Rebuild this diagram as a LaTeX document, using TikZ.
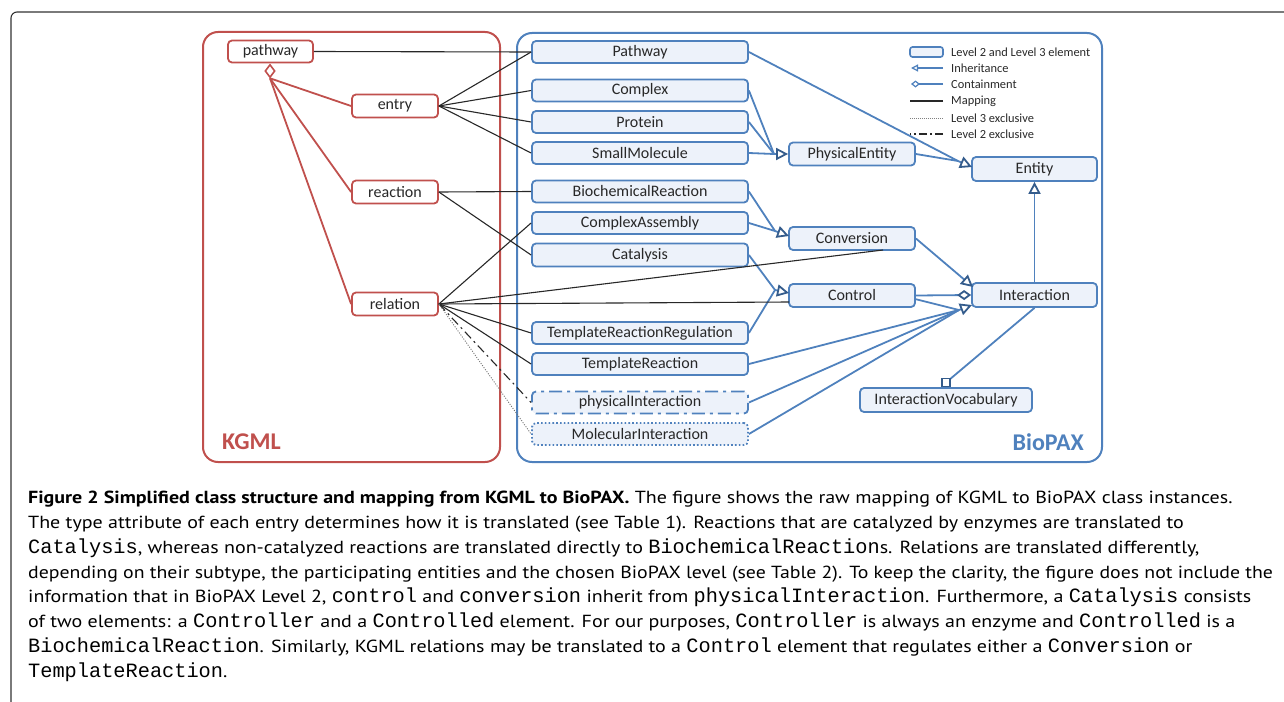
\documentclass[tikz,border=0pt]{standalone}
\usepackage{fontspec}
\setmainfont{PT Sans}[FakeStretch=1.143]
\setmonofont{Liberation Mono}
\newfontfamily\calfont{Carlito}
\usetikzlibrary{arrows.meta,shapes.geometric}
\definecolor{kred}{RGB}{192,80,77}
\definecolor{bblue}{RGB}{79,129,189}
\definecolor{bdark}{RGB}{52,92,140}
\definecolor{bfill}{RGB}{237,242,250}
\definecolor{ink}{RGB}{40,40,40}
\tikzset{
  kbox/.style={draw=kred, line width=1.8pt, fill=white, rounded corners=4pt, minimum width=86pt, minimum height=23pt, inner sep=0pt, font=\calfont\fontsize{16}{18}\selectfont, text=ink},
  bbox/.style={draw=bblue, line width=1.8pt, fill=bfill, rounded corners=4pt, minimum width=216pt, minimum height=22pt, inner sep=0pt, font=\calfont\fontsize{16}{18}\selectfont, text=ink},
  midbox/.style={bbox, minimum width=126pt, minimum height=23pt},
  maplink/.style={draw=ink, line width=1.1pt},
  redlink/.style={draw=kred, line width=1.8pt},
  bluelink/.style={draw=bblue, line width=1.8pt},
  inh/.style={bluelink, -{Triangle[fill=white, color=bdark, length=12pt, width=12pt]}},
  cont/.style={bluelink, -{Diamond[fill=white, color=bdark, length=14pt, width=10pt]}},
  legtext/.style={anchor=west, inner sep=0pt, font=\calfont\fontsize{12.4}{14}\selectfont, text=ink},
  capline/.style={anchor=base west, inner sep=0pt, font=\fontsize{17.5}{20}\selectfont, text=black}
}
\newcommand{\cd}[1]{{\fontsize{20.3}{20}\ttfamily #1}}
\begin{document}
\begin{tikzpicture}[x=1pt,y=-1pt]
\useasboundingbox (0,0) rectangle (1284,701);
% outer frame
\draw[draw=black!80, line width=1.1pt, rounded corners=6pt] (1290,12) -- (11,12) -- (11,710);
% group boxes
\node[draw=kred, line width=2pt, rounded corners=15pt, minimum width=297pt, minimum height=430pt, inner sep=0pt] (kgml) at (351.5,247) {};
\node[draw=bblue, line width=2pt, rounded corners=15pt, minimum width=585pt, minimum height=429pt, inner sep=0pt] (biopax) at (809.5,247.5) {};
\node[anchor=west, inner sep=0pt, font=\calfont\bfseries\fontsize{24}{26}\selectfont, text=kred] (kgmllab) at (222,442) {KGML};
\node[anchor=east, inner sep=0pt, font=\calfont\bfseries\fontsize{24}{26}\selectfont, text=bblue] (biopaxlab) at (1084,442) {BioPAX};
% KGML nodes
\node[kbox, minimum width=85pt, minimum height=22pt] (kpath) at (270.5,51.5) {pathway};
\node[kbox] (kentry) at (395,106) {entry};
\node[kbox] (kreac) at (395,192) {reaction};
\node[kbox] (krel) at (395,304) {relation};
\node[draw=kred, line width=1.6pt, fill=white, diamond, minimum width=10pt, minimum height=13pt, inner sep=0pt] (kdia) at (270,71) {};
\draw[redlink] (kdia.south) -- (kentry.west);
\draw[redlink] (kdia.south) -- (kreac.west);
\draw[redlink] (kdia.south) -- (krel.west);
% BioPAX left column
\node[bbox] (bpath) at (640,52) {Pathway};
\node[bbox] (bcomplex) at (640,90.5) {Complex};
\node[bbox] (bprot) at (640,122) {Protein};
\node[bbox] (bsmall) at (640,153) {SmallMolecule};
\node[bbox] (bbio) at (640,191.5) {BiochemicalReaction};
\node[bbox] (bca) at (640,223) {ComplexAssembly};
\node[bbox, minimum height=23pt] (bcat) at (640,255) {Catalysis};
\node[bbox] (btrr) at (640,333) {TemplateReactionRegulation};
\node[bbox] (btr) at (640,364) {TemplateReaction};
\node[bbox, dash pattern=on 13pt off 5pt on 3pt off 5pt] (bphys) at (640,402.5) {physicalInteraction};
\node[bbox, dash pattern=on 1.6pt off 2.2pt] (bmol) at (640,434) {MolecularInteraction};
% middle/right
\node[midbox] (bpe) at (852,154) {PhysicalEntity};
\node[midbox] (bconv) at (852,238.5) {Conversion};
\node[midbox] (bctrl) at (852,295.5) {Control};
\node[midbox, minimum width=125pt, minimum height=24pt] (bent) at (1034.5,169) {Entity};
\node[midbox, minimum width=125pt, minimum height=24pt] (binter) at (1034.5,295) {Interaction};
\node[midbox, minimum width=172pt, minimum height=24pt] (bvoc) at (946,400) {InteractionVocabulary};
% convergence points
\coordinate (peb) at (774,154);
\coordinate (entb) at (958,161);
\coordinate (entt) at (972,167);
\coordinate (convb) at (775,231);
\coordinate (convt) at (789,236);
\coordinate (ctrlb) at (775,290);
\coordinate (ctrlt) at (789,293);
\coordinate (intb) at (959,310);
\coordinate (intt) at (972,305);
\coordinate (intt2) at (973,287);
\coordinate (ctrlout) at (915,299);
\coordinate (vocsq) at (946,382.5);
% inheritance
\draw[bluelink] (bcomplex.east) -- (peb);
\draw[bluelink] (bprot.east) -- (peb);
\draw[bluelink] (bsmall.east) -- (peb);
\draw[inh] (peb) -- (bpe.west);
\draw[bluelink] (bpath.east) -- (entb);
\draw[bluelink] (bpe.east) -- (entb);
\draw[inh] (entb) -- (entt);
\draw[bluelink] (bbio.east) -- (convb);
\draw[bluelink] (bca.east) -- (convb);
\draw[inh] (convb) -- (convt);
\draw[bluelink] (bcat.east) -- (ctrlb);
\draw[bluelink] (btrr.east) -- (ctrlb);
\draw[inh] (ctrlb) -- (ctrlt);
\draw[inh] (bconv.east) -- (intt2);
\draw[cont] (bctrl.east) -- (binter.west);
\draw[bluelink] (ctrlout) -- (intb);
\draw[bluelink] (btr.east) -- (intb);
\draw[bluelink] (bphys.east) -- (intb);
\draw[bluelink] (bmol.east) -- (intb);
\draw[inh] (intb) -- (intt);
\draw[inh] (binter.north) -- (bent.south);
\draw[bluelink] (binter.south) -- (vocsq);
\node[draw=bdark, line width=1.6pt, fill=white, minimum size=8pt, inner sep=0pt] (vsq) at (vocsq) {};
% mapping lines
\coordinate (convhit) at (883,250);
\coordinate (ctrlhit) at (789,302);
\draw[maplink] (kpath.east) -- (bpath.west);
\draw[maplink] (kentry.east) -- (bpath.west);
\draw[maplink] (kentry.east) -- (bcomplex.west);
\draw[maplink] (kentry.east) -- (bprot.west);
\draw[maplink] (kentry.east) -- (bsmall.west);
\draw[maplink] (kreac.east) -- (bbio.west);
\draw[maplink] (kreac.east) -- (bcat.west);
\draw[maplink] (krel.east) -- (bca.west);
\draw[maplink] (krel.east) -- (convhit);
\draw[maplink] (krel.east) -- (ctrlhit);
\draw[maplink] (krel.east) -- (btrr.west);
\draw[maplink] (krel.east) -- (btr.west);
\draw[maplink, dash pattern=on 9pt off 4pt on 2pt off 4pt] (krel.east) -- (bphys.west);
\draw[draw=black!55, line width=0.9pt, dash pattern=on 1pt off 1.5pt] (krel.east) -- (bmol.west);
% legend
\node[bbox, minimum width=33pt, minimum height=10pt, rounded corners=2.5pt, line width=1.6pt] (lgbox) at (926.5,52) {};
\node[legtext] (lgt1) at (951,52) {Level 2 and Level 3 element};
\node[legtext] (lgt2) at (951,68) {Inheritance};
\node[legtext] (lgt3) at (951,84) {Containment};
\node[legtext] (lgt4) at (951,101) {Mapping};
\node[legtext] (lgt5) at (951,118) {Level 3 exclusive};
\node[legtext] (lgt6) at (951,134) {Level 2 exclusive};
\coordinate (lga) at (943,68); \coordinate (lgb) at (911,68);
\coordinate (lgc) at (943,84); \coordinate (lgd) at (911,84);
\coordinate (lge) at (943,101); \coordinate (lgf) at (910,101);
\coordinate (lgg) at (943,118); \coordinate (lgh) at (910,118);
\coordinate (lgi) at (943,134); \coordinate (lgj) at (910,134);
\draw[draw=bblue, line width=1.2pt, -{Triangle[fill=white, length=7pt, width=7pt]}] (lga) -- (lgb);
\draw[draw=bblue, line width=1.2pt, -{Diamond[fill=white, length=9pt, width=7pt]}] (lgc) -- (lgd);
\draw[draw=ink, line width=1.5pt] (lge) -- (lgf);
\draw[draw=black!50, line width=0.8pt, dash pattern=on 1pt off 1pt] (lgg) -- (lgh);
\draw[draw=ink, line width=1.5pt, dash pattern=on 8pt off 3pt on 2pt off 3pt] (lgi) -- (lgj);
% caption
\node[capline] (cap1) at (28,503) {\textbf{Figure 2 Simplified class structure and mapping from KGML to BioPAX.} The figure shows the raw mapping of KGML to BioPAX class instances.};
\node[capline] (cap2) at (28,528) {The type attribute of each entry determines how it is translated (see Table 1). Reactions that are catalyzed by enzymes are translated to};
\node[capline] (cap3) at (28,553) {\cd{Catalysis}, whereas non-catalyzed reactions are translated directly to \cd{BiochemicalReaction}s. Relations are translated differently,};
\node[capline] (cap4) at (28,578) {\scalebox{0.99}[1]{depending on their subtype, the participating entities and the chosen BioPAX level (see Table 2). To keep the clarity, the figure does not include the}};
\node[capline] (cap5) at (28,602) {information that in BioPAX Level 2, \cd{control} and \cd{conversion} inherit from \cd{physicalInteraction}. Furthermore, a \cd{Catalysis} consists};
\node[capline] (cap6) at (28,627) {of two elements: a \cd{Controller} and a \cd{Controlled} element. For our purposes, \cd{Controller} is always an enzyme and \cd{Controlled} is a};
\node[capline] (cap7) at (28,652) {\cd{BiochemicalReaction}. Similarly, KGML relations may be translated to a \cd{Control} element that regulates either a \cd{Conversion} or};
\node[capline] (cap8) at (28,677) {\cd{TemplateReaction}.};
\end{tikzpicture}
\end{document}
